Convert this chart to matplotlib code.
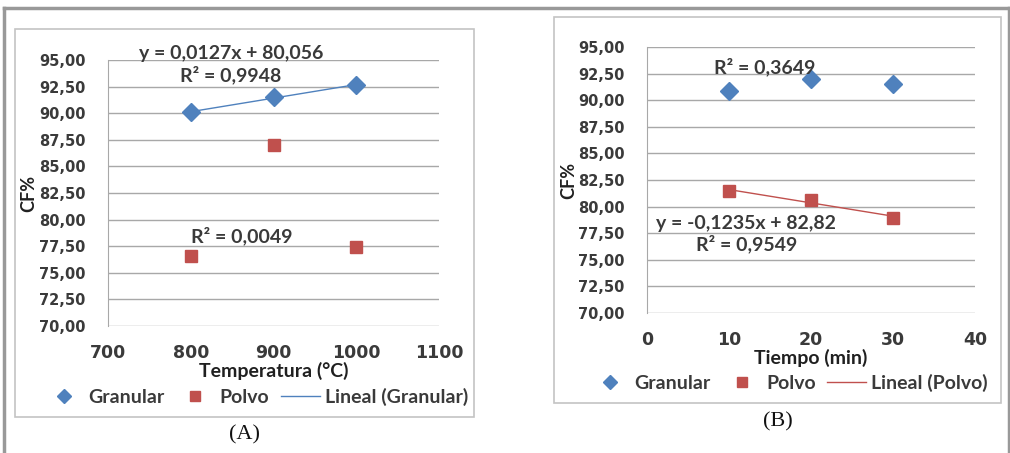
import numpy as np
import matplotlib
matplotlib.use("Agg")
import matplotlib.pyplot as plt
from matplotlib.ticker import FuncFormatter
from matplotlib.patches import Rectangle
from matplotlib.lines import Line2D

# ---------------- data ----------------
temp_x = [800, 900, 1000]
temp_granular = [90.10, 91.50, 92.65]
temp_polvo = [76.60, 87.00, 77.45]
temp_eq = "y = 0,0127x + 80,056"
temp_r2_gran = "R² = 0,9948"
temp_r2_polvo = "R² = 0,0049"

time_x = [10, 20, 30]
time_granular = [90.85, 92.00, 91.55]
time_polvo = [81.45, 80.65, 78.95]
time_eq = "y = -0,1235x + 82,82"
time_r2_gran = "R² = 0,3649"
time_r2_polvo = "R² = 0,9549"

y_ticks = [70, 72.5, 75, 77.5, 80, 82.5, 85, 87.5, 90, 92.5, 95]
temp_ticks = [700, 800, 900, 1000, 1100]
time_ticks = [0, 10, 20, 30, 40]

BLUE = "#4F81BD"
RED = "#C0504D"
GRID = "#a8a8a8"
TXT = "#3a3a3a"

W, H = 1010, 453
plt.rcParams['font.family'] = ['Lato', 'DejaVu Sans']
plt.rcParams['font.weight'] = 'bold'
fig = plt.figure(figsize=(W / 100, H / 100), dpi=100)


def fx(x):
    return x / W


def fy(y):
    return 1 - y / H


def axes_px(l, t, r, b):
    return fig.add_axes([fx(l), fy(b), (r - l) / W, (b - t) / H])


# outer frame
for xs_, ys_ in [([4, 4], [8, H]), ([4, 1009], [8, 8]), ([1009, 1009], [8, H])]:
    fig.add_artist(Line2D([fx(v) for v in xs_], [fy(v) for v in ys_], transform=fig.transFigure,
                          color="#999999", lw=2.5))
# panel boxes
for (l, t, r, b) in [(15, 29, 474, 417), (554, 17, 1001, 403)]:
    fig.add_artist(Rectangle((fx(l), fy(b)), (r - l) / W, (b - t) / H, transform=fig.transFigure,
                             fill=False, edgecolor="#c4c4c4", lw=1.2))

fmt = FuncFormatter(lambda v, p: f"{v:.2f}".replace(".", ","))


def style(ax, xticks, xlabel):
    ax.set_ylim(70, 95)
    ax.set_yticks(y_ticks)
    ax.yaxis.set_major_formatter(fmt)
    ax.set_xlim(xticks[0], xticks[-1])
    ax.set_xticks(xticks)
    ax.grid(axis="y", color=GRID, lw=1.0)
    ax.set_axisbelow(True)
    for s in ["top", "right", "bottom"]:
        ax.spines[s].set_visible(False)
    ax.spines["left"].set_color(GRID)
    ax.tick_params(length=0, labelcolor=TXT, labelfontfamily="DejaVu Sans")
    ax.tick_params(axis="y", pad=16, labelsize=10.5)
    ax.tick_params(axis="x", pad=13, labelsize=12.5)
    ax.set_xlabel(xlabel, fontsize=14, fontweight="bold", color="#202020", labelpad=0)
    ax.set_ylabel("CF%", fontsize=13, fontweight="bold", color="#202020")


def ann(x, y, s):
    fig.text(fx(x), fy(y), s, ha="center", va="center", fontsize=14, color=TXT, fontweight="bold")


def legend(ax, labels, line_color, cx, cy):
    handles = [Line2D([], [], marker="D", color=BLUE, ls="none", ms=7.5),
               Line2D([], [], marker="s", color=RED, ls="none", ms=7.5),
               Line2D([], [], color=line_color, lw=1.0)]
    leg = ax.legend(handles, labels, ncol=3, frameon=False,
                    loc="center", bbox_to_anchor=(fx(cx), fy(cy)), bbox_transform=fig.transFigure,
                    fontsize=14, handlelength=2.0, handletextpad=0.25, columnspacing=0.6,
                    borderaxespad=0)
    for t in leg.get_texts():
        t.set_color(TXT)
    return leg


# ---------------- panel A ----------------
axA = axes_px(108, 60, 439, 326)
style(axA, temp_ticks, "Temperatura (°C)")
axA.yaxis.set_label_coords(-0.215, 0.5)
cA = np.polyfit(temp_x, temp_granular, 1)
xs = np.array([temp_x[0], temp_x[-1]])
axA.plot(xs, np.polyval(cA, xs), color=BLUE, lw=1.0, zorder=2)
axA.plot(temp_x, temp_granular, "D", color=BLUE, ms=9, ls="none", zorder=3)
axA.plot(temp_x, temp_polvo, "s", color=RED, ms=8.5, ls="none", zorder=3)
ann(231, 53, temp_eq)
ann(231, 75, temp_r2_gran)
ann(242, 236, temp_r2_polvo)
legend(axA, ["Granular", "Polvo", "Lineal (Granular)"], BLUE, 256, 397)
fig.text(fx(245), fy(435), "(A)", ha="center", va="center", fontsize=16, family="Liberation Serif",
         fontweight="normal", color="#111111")

# ---------------- panel B ----------------
axB = axes_px(647, 47, 975, 313)
style(axB, time_ticks, "Tiempo (min)")
axB.yaxis.set_label_coords(-0.213, 0.5)
cB = np.polyfit(time_x, time_polvo, 1)
xs = np.array([time_x[0], time_x[-1]])
axB.plot(xs, np.polyval(cB, xs), color=RED, lw=1.0, zorder=2)
axB.plot(time_x, time_granular, "D", color=BLUE, ms=9, ls="none", zorder=3)
axB.plot(time_x, time_polvo, "s", color=RED, ms=8.5, ls="none", zorder=3)
ann(765, 67, time_r2_gran)
ann(746, 223, time_eq)
ann(747, 244, time_r2_polvo)
legend(axB, ["Granular", "Polvo", "Lineal (Polvo)"], RED, 789, 383)
fig.text(fx(778), fy(422), "(B)", ha="center", va="center", fontsize=16, family="Liberation Serif",
         fontweight="normal", color="#111111")

fig.savefig("out.png", dpi=100)
